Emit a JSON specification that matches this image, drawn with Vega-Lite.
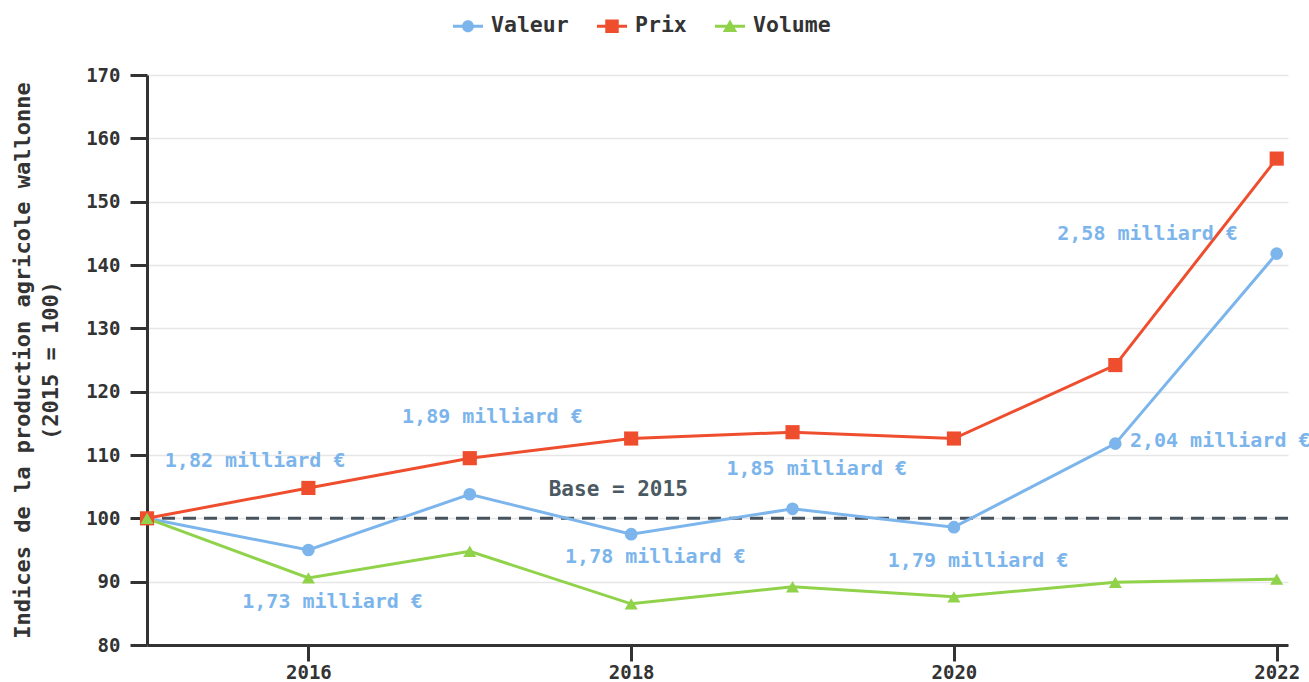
{
  "$schema": "https://vega.github.io/schema/vega-lite/v6.json",
  "width": 1141,
  "height": 570,
  "autosize": {"type": "none"},
  "padding": {"left": 147, "top": 75, "right": 21, "bottom": 37},
  "background": "white",
  "config": {
    "view": {"stroke": null},
    "font": "DejaVu Sans Mono",
    "axis": {
      "labelFont": "DejaVu Sans Mono",
      "labelFontWeight": "bold",
      "labelColor": "#333333",
      "titleFont": "DejaVu Sans Mono",
      "titleFontWeight": "bold",
      "titleColor": "#333333",
      "domainColor": "#333333",
      "domainWidth": 3,
      "tickColor": "#333333",
      "tickWidth": 3,
      "gridColor": "#e6e6e6",
      "gridWidth": 1.5
    }
  },
  "datasets": {
    "indices": [
      {"annee": 2015, "serie": "Valeur", "indice": 100},
      {"annee": 2016, "serie": "Valeur", "indice": 95.0},
      {"annee": 2017, "serie": "Valeur", "indice": 103.8},
      {"annee": 2018, "serie": "Valeur", "indice": 97.5},
      {"annee": 2019, "serie": "Valeur", "indice": 101.5},
      {"annee": 2020, "serie": "Valeur", "indice": 98.6},
      {"annee": 2021, "serie": "Valeur", "indice": 111.8},
      {"annee": 2022, "serie": "Valeur", "indice": 141.8},
      {"annee": 2015, "serie": "Prix", "indice": 100},
      {"annee": 2016, "serie": "Prix", "indice": 104.8},
      {"annee": 2017, "serie": "Prix", "indice": 109.5},
      {"annee": 2018, "serie": "Prix", "indice": 112.6},
      {"annee": 2019, "serie": "Prix", "indice": 113.6},
      {"annee": 2020, "serie": "Prix", "indice": 112.6},
      {"annee": 2021, "serie": "Prix", "indice": 124.2},
      {"annee": 2022, "serie": "Prix", "indice": 156.8},
      {"annee": 2015, "serie": "Volume", "indice": 100},
      {"annee": 2016, "serie": "Volume", "indice": 90.6},
      {"annee": 2017, "serie": "Volume", "indice": 94.8},
      {"annee": 2018, "serie": "Volume", "indice": 86.5},
      {"annee": 2019, "serie": "Volume", "indice": 89.2},
      {"annee": 2020, "serie": "Volume", "indice": 87.6},
      {"annee": 2021, "serie": "Volume", "indice": 89.9},
      {"annee": 2022, "serie": "Volume", "indice": 90.4}
    ],
    "annotations": [
      {"annee": 2015.67, "indice": 109.0, "texte": "1,82 milliard €"},
      {"annee": 2016.15, "indice": 86.8, "texte": "1,73 milliard €"},
      {"annee": 2017.14, "indice": 116.0, "texte": "1,89 milliard €"},
      {"annee": 2018.15, "indice": 93.9, "texte": "1,78 milliard €"},
      {"annee": 2019.15, "indice": 107.8, "texte": "1,85 milliard €"},
      {"annee": 2020.15, "indice": 93.2, "texte": "1,79 milliard €"},
      {"annee": 2021.65, "indice": 112.2, "texte": "2,04 milliard €"},
      {"annee": 2021.2, "indice": 144.9, "texte": "2,58 milliard €"}
    ],
    "base": [{"annee": 2017.92, "indice": 104.4, "texte": "Base = 2015", "ref": 100}]
  },
  "layer": [
    {
      "data": {"name": "indices"},
      "mark": {"type": "point", "size": 0, "filled": true, "strokeWidth": 0, "opacity": 1},
      "encoding": {
        "x": {"field": "annee", "type": "quantitative", "scale": {"domain": [2015, 2022.07], "nice": false, "zero": false},
          "axis": {"values": [2016, 2018, 2020, 2022], "format": "d", "title": null, "grid": false, "tickSize": 16, "labelPadding": 2, "labelFontSize": 19}},
        "y": {"field": "indice", "type": "quantitative", "scale": {"domain": [80, 170], "nice": false, "zero": false},
          "axis": {"values": [80, 90, 100, 110, 120, 130, 140, 150, 160, 170], "tickSize": 17, "labelPadding": 10, "labelFontSize": 19,
            "title": ["Indices de la production agricole wallonne", "(2015 = 100)"], "titleFontSize": 22, "titleLineHeight": 28, "titlePadding": 23}},
        "color": {"field": "serie", "type": "nominal",
          "scale": {"domain": ["Valeur", "Prix", "Volume"], "range": ["#7cb5ec", "#ef4e2e", "#91d24b"]},
          "legend": {"orient": "none", "legendX": 306, "legendY": -64, "direction": "horizontal", "title": null,
            "labelFont": "DejaVu Sans Mono", "labelFontWeight": "bold", "labelFontSize": 21.5, "labelColor": "#333333",
            "symbolSize": 900, "symbolStrokeWidth": 0, "labelOffset": 8, "columnPadding": 28, "padding": 0}},
        "shape": {"field": "serie", "type": "nominal",
          "scale": {"domain": ["Valeur", "Prix", "Volume"], "range": [
            "M-1,-0.1H1V0.1H-1Z M0.4,0A0.4,0.4 0 1 1 -0.4,0A0.4,0.4 0 1 1 0.4,0Z",
            "M-1,-0.1H1V0.1H-1Z M-0.45,-0.45H0.45V0.45H-0.45Z",
            "M-1,-0.1H1V0.1H-1Z M0,-0.45L0.48,0.38H-0.48Z"]}}
      }
    },
    {
      "data": {"name": "base"},
      "mark": {"type": "rule", "color": "#47535d", "strokeWidth": 3, "strokeDash": [13, 8]},
      "encoding": {"y": {"field": "ref", "type": "quantitative"}}
    },
    {
      "data": {"name": "indices"},
      "mark": {"type": "line", "strokeWidth": 3},
      "encoding": {
        "x": {"field": "annee", "type": "quantitative"},
        "y": {"field": "indice", "type": "quantitative"},
        "color": {"field": "serie", "type": "nominal", "legend": null}
      }
    },
    {
      "data": {"name": "indices"},
      "transform": [{"filter": "datum.serie === 'Valeur'"}],
      "mark": {"type": "point", "shape": "circle", "filled": true, "opacity": 1, "size": 160},
      "encoding": {
        "x": {"field": "annee", "type": "quantitative"},
        "y": {"field": "indice", "type": "quantitative"},
        "color": {"field": "serie", "type": "nominal", "legend": null}
      }
    },
    {
      "data": {"name": "indices"},
      "transform": [{"filter": "datum.serie === 'Prix'"}],
      "mark": {"type": "point", "shape": "square", "filled": true, "opacity": 1, "size": 200},
      "encoding": {
        "x": {"field": "annee", "type": "quantitative"},
        "y": {"field": "indice", "type": "quantitative"},
        "color": {"field": "serie", "type": "nominal", "legend": null}
      }
    },
    {
      "data": {"name": "indices"},
      "transform": [{"filter": "datum.serie === 'Volume'"}],
      "mark": {"type": "point", "shape": "triangle-up", "filled": true, "opacity": 1, "size": 170},
      "encoding": {
        "x": {"field": "annee", "type": "quantitative"},
        "y": {"field": "indice", "type": "quantitative"},
        "color": {"field": "serie", "type": "nominal", "legend": null}
      }
    },
    {
      "data": {"name": "annotations"},
      "mark": {"type": "text", "font": "DejaVu Sans Mono", "fontWeight": "bold", "fontSize": 20, "color": "#7cb5ec", "align": "center", "baseline": "middle"},
      "encoding": {
        "x": {"field": "annee", "type": "quantitative"},
        "y": {"field": "indice", "type": "quantitative"},
        "text": {"field": "texte"}
      }
    },
    {
      "data": {"name": "base"},
      "mark": {"type": "text", "font": "DejaVu Sans Mono", "fontWeight": "bold", "fontSize": 21, "color": "#4b5963", "align": "center", "baseline": "middle"},
      "encoding": {
        "x": {"field": "annee", "type": "quantitative"},
        "y": {"field": "indice", "type": "quantitative"},
        "text": {"field": "texte"}
      }
    }
  ]
}
